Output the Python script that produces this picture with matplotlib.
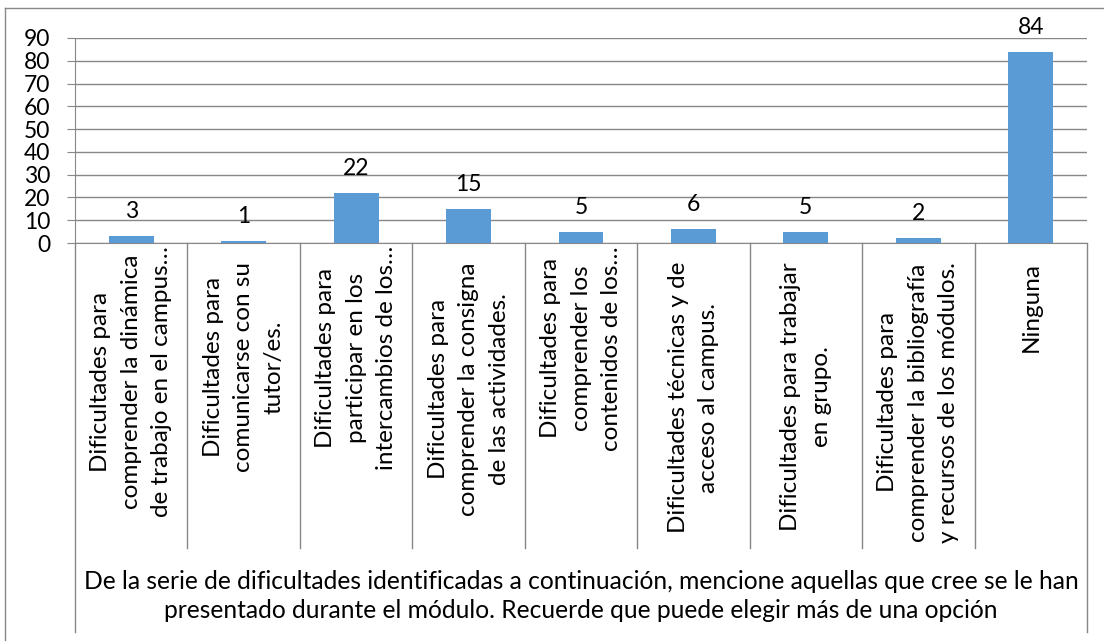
import matplotlib
matplotlib.use('Agg')
import matplotlib.pyplot as plt
from matplotlib.lines import Line2D
import matplotlib.transforms as mtransforms

categories = [
    "Dificultades para\ncomprender la dinámica\nde trabajo en el campus…",
    "Dificultades para\ncomunicarse con su\ntutor/es.",
    "Dificultades para\nparticipar en los\nintercambios de los…",
    "Dificultades para\ncomprender la consigna\nde las actividades.",
    "Dificultades para\ncomprender los\ncontenidos de los…",
    "Dificultades técnicas y de\nacceso al campus.",
    "Dificultades para trabajar\nen grupo.",
    "Dificultades para\ncomprender la bibliografía\ny recursos de los módulos.",
    "Ninguna",
]
values = [3, 1, 22, 15, 5, 6, 5, 2, 84]
y_ticks = list(range(0, 100, 10))
axis_title = ("De la serie de dificultades identificadas a continuación, mencione aquellas que cree se le han\n"
              "presentado durante el módulo. Recuerde que puede elegir más de una opción")

plt.rcParams['font.family'] = ['Lato', 'DejaVu Sans']

W, H = 1104, 641
fig = plt.figure(figsize=(W / 100, H / 100), dpi=100)
L, R, T, B = 75, 1087, 38, 243
ax = fig.add_axes([L / W, 1 - B / H, (R - L) / W, (B - T) / H])

grid_c = '#878787'
n = len(values)
xs = list(range(n))
ax.bar(xs, values, width=0.4, color='#5B9BD5', zorder=3)
ax.set_xlim(-0.5, n - 0.5)
ax.set_ylim(0, 90)
ax.set_yticks(y_ticks)
ax.yaxis.grid(True, color=grid_c, lw=1)
ax.set_axisbelow(True)
ax.set_xticks([])
for s in ['top', 'right']:
    ax.spines[s].set_visible(False)
ax.spines['left'].set_color(grid_c)
ax.spines['bottom'].set_color(grid_c)
ax.tick_params(axis='y', length=5.8, color=grid_c, labelsize=16.5, pad=12)

for i, v in enumerate(values):
    ax.annotate(str(v), (i, v), xytext=(0, 13), textcoords='offset points',
                ha='center', va='baseline', fontsize=16.5)

trans = mtransforms.blended_transform_factory(ax.transData, ax.transAxes)
ph = B - T
for k in range(n + 1):
    xk = k - 0.5
    yb = (B - 632) / ph if k in (0, n) else (B - 548) / ph
    ax.add_line(Line2D([xk, xk], [0, yb], transform=trans, color=grid_c, lw=1, clip_on=False))

for i, lab in enumerate(categories):
    top = 246 if '…' in lab else 262
    ax.text(i, (B - top) / ph, lab, rotation=90, ha='center', va='top',
            multialignment='center', transform=trans, fontsize=17.5, linespacing=1.56)

ax.text((n - 1) / 2, (B - 596) / ph, axis_title, ha='center', va='center',
        multialignment='center', transform=trans, fontsize=17.7, linespacing=1.29)

fig.add_artist(Line2D([5 / W, 5 / W], [0, 1 - 8 / H], transform=fig.transFigure, color=grid_c, lw=1))
fig.add_artist(Line2D([5 / W, 1], [1 - 8 / H, 1 - 8 / H], transform=fig.transFigure, color=grid_c, lw=1))

fig.savefig('out.png', dpi=100)
